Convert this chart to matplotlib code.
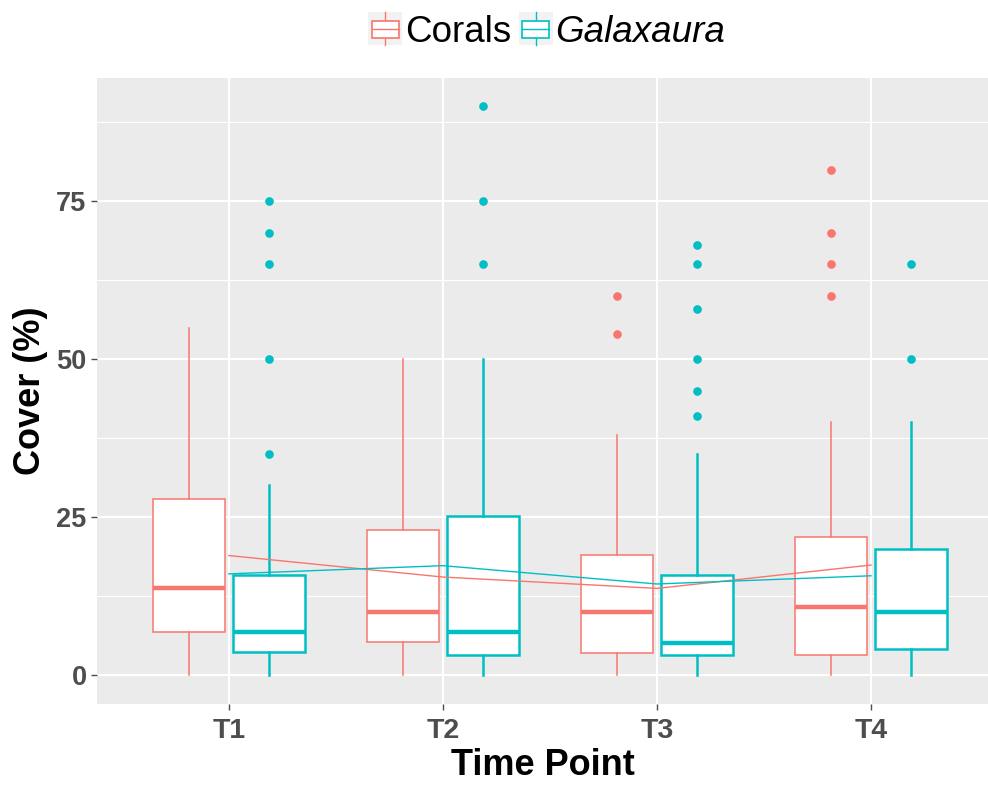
import matplotlib
matplotlib.use("Agg")
import matplotlib.pyplot as plt
from matplotlib.patches import Rectangle
from matplotlib.lines import Line2D
from matplotlib.legend_handler import HandlerBase

# ---------------- data ----------------
time_points = ["T1", "T2", "T3", "T4"]
groups = ["Corals", "Galaxaura"]

coral_whislo = [0, 0, 0, 0]
coral_q1 = [6.8, 5.2, 3.5, 3.2]
coral_med = [13.8, 10.0, 10.0, 10.8]
coral_q3 = [27.8, 23.0, 19.0, 21.8]
coral_whishi = [55, 50, 38, 40]
coral_fliers = [[], [], [60, 54], [80, 70, 65, 60]]
coral_means = [18.9, 15.5, 13.7, 17.4]

gal_whislo = [0, 0, 0, 0]
gal_q1 = [3.6, 3.2, 3.2, 4.1]
gal_med = [6.8, 6.8, 5.0, 10.0]
gal_q3 = [15.8, 25.2, 15.9, 20.0]
gal_whishi = [30, 50, 35, 40]
gal_fliers = [[75, 70, 65, 50, 35], [90, 75, 65], [68, 65, 58, 50, 45, 41], [65, 50]]
gal_means = [16.0, 17.3, 14.4, 15.7]

y_ticks = [0, 25, 50, 75]
coral_col = "#F8766D"
gal_col = "#00BFC4"

# ---------------- figure ----------------
W, H = 988, 785
fig = plt.figure(figsize=(W / 100, H / 100), dpi=100)
ax = fig.add_axes([97 / W, (H - 704) / H, (988 - 97) / W, (704 - 78) / H])
ax.set_facecolor("#EBEBEB")
for s in ax.spines.values():
    s.set_visible(False)

ax.set_xlim(-0.616, 3.547)
ax.set_ylim(-4.6, 94.5)

# grid
for y in [12.5, 37.5, 62.5, 87.5]:
    ax.axhline(y, color="white", lw=0.8, zorder=0)
for y in y_ticks:
    ax.axhline(y, color="white", lw=1.5, zorder=0)
for x in range(len(time_points)):
    ax.axvline(x, color="white", lw=1.5, zorder=0)


def make_stats(lo, q1, med, q3, hi, fl):
    return [dict(whislo=a, q1=b, med=c, q3=d, whishi=e, fliers=f)
            for a, b, c, d, e, f in zip(lo, q1, med, q3, hi, fl)]


xs = list(range(len(time_points)))
width = 0.336
off = 0.187

for stats, col, sign, lw in [
    (make_stats(coral_whislo, coral_q1, coral_med, coral_q3, coral_whishi, coral_fliers), coral_col, -1, 1.1),
    (make_stats(gal_whislo, gal_q1, gal_med, gal_q3, gal_whishi, gal_fliers), gal_col, 1, 1.8),
]:
    pos = [x + sign * off for x in xs]
    ax.bxp(stats, positions=pos, widths=width, showcaps=False, patch_artist=True,
           boxprops=dict(facecolor="white", edgecolor=col, linewidth=lw),
           whiskerprops=dict(color=col, linewidth=lw),
           medianprops=dict(color=col, linewidth=3.2),
           flierprops=dict(marker="o", markerfacecolor=col, markeredgecolor=col,
                           markersize=5.2, linestyle="none"),
           manage_ticks=False, zorder=2)

ax.plot(xs, coral_means, color=coral_col, lw=1.0, zorder=3)
ax.plot(xs, gal_means, color=gal_col, lw=1.0, zorder=3)

ax.set_xticks(xs)
ax.set_xticklabels(time_points)
ax.set_yticks(y_ticks)
ax.tick_params(axis="both", colors="#4D4D4D", length=4, width=1)
ax.tick_params(axis="x", pad=6)
for lab in ax.get_xticklabels():
    lab.set_fontsize(20.5)
    lab.set_fontweight("bold")
    lab.set_family("Liberation Sans")
    lab.set_color("#4D4D4D")
for lab in ax.get_yticklabels():
    lab.set_fontsize(19.5)
    lab.set_fontweight("bold")
    lab.set_family("Liberation Sans")
    lab.set_color("#4D4D4D")

ax.set_xlabel("Time Point", fontsize=26, fontweight="bold", family="Liberation Sans",
              color="black", labelpad=3)
ax.set_ylabel("Cover (%)", fontsize=26, fontweight="bold", family="Liberation Sans",
              color="black", labelpad=6)


# ---------------- legend ----------------
class BoxHandler(HandlerBase):
    def __init__(self, col):
        super().__init__()
        self.col = col

    def create_artists(self, legend, orig_handle, xdescent, ydescent, width, height, fontsize, trans):
        x0, y0 = -xdescent, -ydescent
        arts = [Rectangle((x0, y0), width, height, facecolor="#F2F2F2", edgecolor="none", transform=trans)]
        bx0, bx1 = x0 + width * 0.1, x0 + width * 0.9
        by0, by1 = y0 + height * 0.22, y0 + height * 0.75
        cx = x0 + width / 2
        arts.append(Line2D([cx, cx], [y0 + height * 0.0, by0], color=self.col, lw=1, transform=trans))
        arts.append(Line2D([cx, cx], [by1, y0 + height * 1.0], color=self.col, lw=1, transform=trans))
        arts.append(Rectangle((bx0, by0), bx1 - bx0, by1 - by0, facecolor="white",
                              edgecolor=self.col, lw=1.2, transform=trans))
        arts.append(Line2D([bx0, bx1], [y0 + height * 0.49] * 2, color=self.col, lw=1, transform=trans))
        return arts


h1 = Rectangle((0, 0), 1, 1)
h2 = Rectangle((0, 0), 1, 1)
leg = fig.legend([h1, h2], groups, loc="center", bbox_to_anchor=(547 / W, 1 - 31 / H),
                 ncol=2, frameon=False, handler_map={h1: BoxHandler(coral_col), h2: BoxHandler(gal_col)},
                 prop=dict(family="Liberation Sans", size=26.5),
                 handlelength=0.92, handleheight=1.0, handletextpad=0.08, columnspacing=0.2,
                 borderpad=0, borderaxespad=0)
leg.get_texts()[1].set_style("italic")

fig.savefig("out.png", dpi=100)
